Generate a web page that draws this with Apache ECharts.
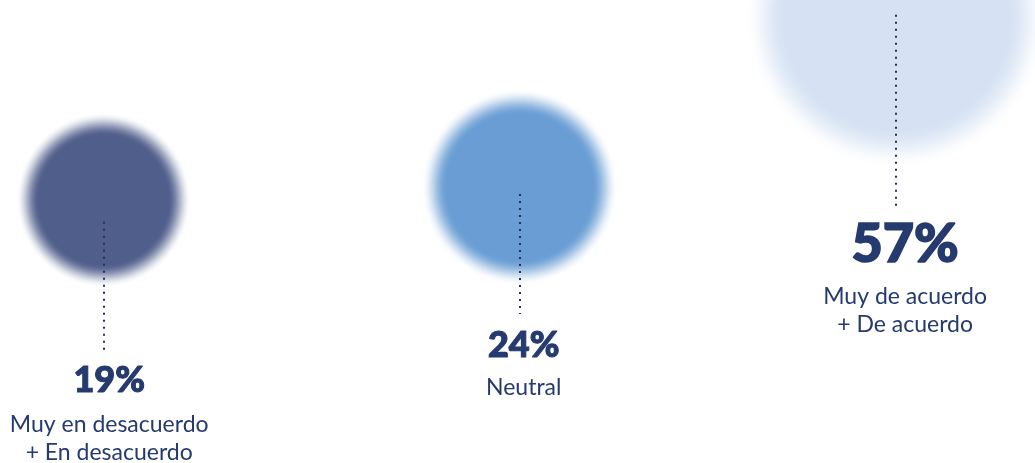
<!DOCTYPE html>
<html>
<head>
<meta charset="utf-8">
<style>html,body{margin:0;padding:0;background:#fff;}#chart{width:1035px;height:463px;}</style>
<script src="https://cdn.jsdelivr.net/npm/echarts@6/dist/echarts.min.js"></script>
</head>
<body>
<div id="chart"></div>
<script>
// ---- data ----
const categories = ['Muy en desacuerdo\n+ En desacuerdo', 'Neutral', 'Muy de acuerdo\n+ De acuerdo'];
const values = [19, 24, 57];
const colors = ['#505e8b', '#699dd4', '#d6e2f3'];
// layout slots in axis units (hidden axes)
const xSlot = [1.0, 5.02, 8.66];
const textSlot = [1.055, 5.06, 8.745];
const bubbleY = [56.8, 59.6, 96.3];
const lineTopY = [52.1, 58.1, 96.8];
const lineBottomY = [23.8, 32.2, 54.6];
const pctY = [17.9, 25.3, 47.1];
const catY = [5.2, 16.2, 32.9];

const textColor = '#253a6e';
const font = 'Lato, "Noto Sans", sans-serif';

function gradient(c) {
  const stops = [{ offset: 0, color: c }];
  const start = 0.74, end = 1.0, n = 12;
  for (let k = 0; k <= n; k++) {
    const t = k / n;
    const a = 1 - t * t * (3 - 2 * t);
    stops.push({ offset: start + (end - start) * t, color: echarts.color.modifyAlpha(c, a) });
  }
  return { type: 'radial', x: 0.5, y: 0.5, r: 0.5, colorStops: stops };
}

const chart = echarts.init(document.getElementById('chart'));
chart.setOption({
  animation: false,
  grid: { left: 0, right: 0, top: 0, bottom: 0 },
  xAxis: { type: 'value', min: 0, max: 10, show: false },
  yAxis: { type: 'value', min: 0, max: 100, show: false },
  series: [
    {
      type: 'scatter',
      silent: true,
      clip: false,
      z: 1,
      data: values.map((v, i) => ({
        value: [xSlot[i], bubbleY[i], v],
        itemStyle: { color: gradient(colors[i]), opacity: 1 }
      })),
      symbolSize: d => 2 * 20 * Math.sqrt(d[2])
    },
    {
      type: 'custom',
      silent: true,
      z: 5,
      data: values.map((v, i) => [xSlot[i], lineTopY[i], lineBottomY[i]]),
      renderItem: (params, api) => {
        const p1 = api.coord([api.value(0), api.value(1)]);
        const p2 = api.coord([api.value(0), api.value(2)]);
        return {
          type: 'line',
          z2: 10,
          shape: { x1: Math.round(p1[0]), y1: p1[1], x2: Math.round(p2[0]), y2: p2[1] },
          style: { stroke: '#262f55', lineWidth: 2, lineDash: [2, 5] }
        };
      }
    },
    {
      type: 'scatter',
      silent: true,
      symbolSize: 0,
      z: 6,
      itemStyle: { opacity: 1 },
      data: values.map((v, i) => ({
        value: [textSlot[i], pctY[i], v],
        label: {
          show: true, position: 'inside',
          formatter: v + '%',
          fontFamily: font, fontWeight: 900,
          fontSize: i === 2 ? 54 : 36,
          color: textColor,
          textBorderColor: textColor,
          textBorderWidth: i === 2 ? 1.6 : 1.1
        }
      }))
    },
    {
      type: 'scatter',
      silent: true,
      symbolSize: 0,
      z: 6,
      itemStyle: { opacity: 1 },
      data: categories.map((c, i) => ({
        value: [textSlot[i], catY[i]],
        label: {
          show: true, position: 'inside',
          formatter: c,
          fontFamily: font, fontSize: 23, lineHeight: 28,
          color: textColor
        }
      }))
    }
  ]
});
</script>
</body>
</html>
